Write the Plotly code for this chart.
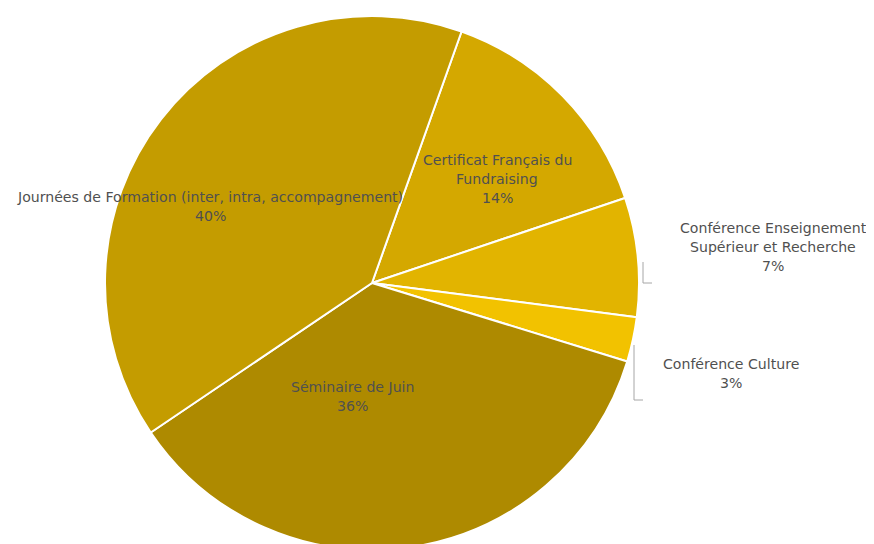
import plotly.graph_objects as go

W, H = 874, 544
OFF = 8  # page body margin in the browser

labels = [
    "Certificat Français du<br>Fundraising",
    "Conférence Enseignement<br>Supérieur et Recherche",
    "Conférence Culture",
    "Séminaire de Juin",
    "Journées de Formation (inter, intra, accompagnement)",
]
values = [14.4, 7.2, 2.7, 35.8, 39.9]
colors = ["#D4A800", "#E2B400", "#F2C200", "#AE8A00", "#C49C00"]

# label block first-line centres (screen pixels) - layout only
label_pos = [(497, 160), (773, 228), (731, 364), (352, 387), (210, 197)]
LINE_GAP = 19.0

# pie placement (screen pixels)
cx, cy, r = 372, 283, 267


def px(x):
    return (x - OFF) / W


def py(y):
    return 1 - (y - OFF) / H


fig = go.Figure(go.Pie(
    labels=[l.replace("<br>", " ") for l in labels],
    values=values,
    sort=False,
    direction="clockwise",
    rotation=19.6,
    marker=dict(colors=colors, line=dict(color="white", width=2)),
    textinfo="none",
    hoverinfo="label+percent",
    domain=dict(x=[px(cx - r), px(cx + r)], y=[py(cy + r), py(cy - r)]),
    showlegend=False,
))

total = sum(values)
annotations = []
for lab, val, (lx, ly) in zip(labels, values, label_pos):
    lines = lab.split("<br>") + [f"{round(val / total * 100):d}%"]
    for i, ln in enumerate(lines):
        annotations.append(dict(
            x=px(lx), y=py(ly + i * LINE_GAP), xref="paper", yref="paper",
            text=ln, showarrow=False, xanchor="center", yanchor="middle",
            font=dict(family="DejaVu Sans", size=14.1, color="#505050"),
        ))

shapes = [
    dict(type="path", xref="paper", yref="paper",
         path=f"M {px(643)} {py(262)} L {px(643)} {py(283)} L {px(652)} {py(283)}",
         line=dict(color="#a6a6a6", width=1)),
    dict(type="path", xref="paper", yref="paper",
         path=f"M {px(634)} {py(345)} L {px(634)} {py(400)} L {px(643)} {py(400)}",
         line=dict(color="#a6a6a6", width=1)),
]

fig.update_layout(
    width=W, height=H,
    margin=dict(l=0, r=0, t=0, b=0),
    paper_bgcolor="white", plot_bgcolor="white",
    annotations=annotations,
    shapes=shapes,
)

fig.write_html("out.html")
